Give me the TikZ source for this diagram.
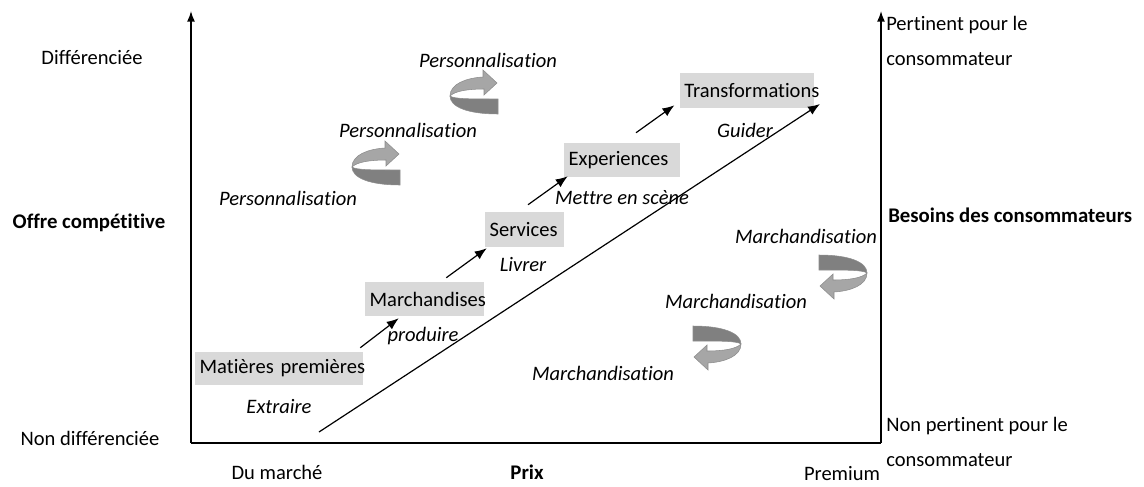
\documentclass[tikz,border=0pt]{standalone}
\usepackage{fontspec}
\setmainfont{Carlito}[Ligatures=NoCommon]
\usetikzlibrary{arrows.meta}
\definecolor{boxgray}{HTML}{D9D9D9}
\definecolor{lightg}{HTML}{A6A6A6}
\definecolor{darkg}{HTML}{808080}
\definecolor{edgeg}{HTML}{8C8C8C}
\tikzset{
 uturn/.pic={
  \path[fill=darkg, draw=edgeg, line width=0.4pt]
    (48,44) .. controls (18,44) and (0,37) .. (0,26)
    .. controls (4,29) and (20,29) .. (48,29) -- cycle;
  \path[fill=lightg, draw=edgeg, line width=0.4pt]
    (0,26) .. controls (0,14) and (16,8) .. (33,7) -- (33,0) -- (47,13)
    -- (34,25) -- (34,19) .. controls (18,19) and (5,21) .. (0,26) -- cycle;
 }
}
\begin{document}
\begin{tikzpicture}[x=0.75pt,y=-0.75pt,
 txt/.style={font=\fontsize{15.4}{18}\selectfont, inner sep=0pt, text=black},
 itx/.style={font=\fontsize{15.4}{18}\selectfont\itshape, inner sep=0pt, text=black},
 bld/.style={font=\fontsize{15.6}{18}\selectfont\bfseries, inner sep=0pt, text=black},
 two/.style={font=\fontsize{15.4}{26}\selectfont, inner sep=0pt, align=left, anchor=west},
 bx/.style={font=\fontsize{15.4}{18}\selectfont, fill=boxgray, inner xsep=3.5pt, inner ysep=0pt, align=left},
 ax/.style={line width=1.1pt, -{Latex[length=8pt,width=6pt]}},
 con/.style={line width=0.9pt, -{Latex[length=9pt,width=7pt]}}
]
\useasboundingbox (0,0) rectangle (1144,486);

% axes
\coordinate (o) at (191,443);
\coordinate (ytop) at (191,11);
\coordinate (xend) at (881,443);
\coordinate (rtop) at (881,11);
\draw[ax] (o) -- (ytop);
\draw[line width=1.1pt] (o) -- (xend);
\draw[ax] (xend) -- (rtop);

% axis labels
\node[txt] (dif) at (92,58) {Différenciée};
\node[txt] (ndif) at (90,438) {Non différenciée};
\node[bld] (offre) at (89,223) {Offre compétitive};
\node[txt] (dum) at (277,472) {Du marché};
\node[bld] (prix) at (527,472) {Prix};
\node[txt] (prem) at (842,474) {Premium};
\node[two] (pert) at (886,41) {Pertinent pour le\\consommateur};
\node[two] (npert) at (886,442) {Non pertinent pour le\\consommateur};
\node[bld, anchor=west] (bes) at (888,215) {Besoins des consommateurs};

% boxes
\node[bx, text width=119pt, minimum height=24.75pt] (mp) at (279,368.5) {\mbox{Matières premières}};
\node[bx, text width=82.25pt, minimum height=25.5pt] (mc) at (424.5,299) {\mbox{Marchandises}};
\node[bx, text width=52.25pt, minimum height=26.25pt] (sv) at (524.5,229.5) {\mbox{Services}};
\node[bx, text width=80pt, minimum height=25.5pt] (ex) at (622,160) {\mbox{Experiences}};
\node[bx, text width=94pt, minimum height=26.25pt] (tr) at (747,90.5) {\mbox{Transformations}};

% italic sublabels
\node[itx] (extr) at (279,407) {Extraire};
\node[itx] (prod) at (423,336) {produire};
\node[itx] (livr) at (523,264) {Livrer};
\node[itx] (mett) at (622,198) {Mettre en scène};
\node[itx] (guid) at (745,130) {Guider};

% diagonal
\coordinate (d0) at (319,432);
\coordinate (d1) at (820,104);
\draw[con] (d0) -- (d1);

% step arrows
\draw[con] ([shift={(-3,-4)}]mp.north east) -- ([shift={(34,2)}]mc.south west);
\draw[con] ([shift={(-38,-4)}]mc.north east) -- ([shift={(2,1)}]sv.south west);
\draw[con] ([shift={(3.5,-7)}]sv.north) -- ([shift={(4,-1)}]ex.south west);
\draw[con] ([shift={(14,-10)}]ex.north) -- ([shift={(-5,-3)}]tr.south west);

% personnalisation
\node[itx] (p1) at (288,198) {Personnalisation};
\node[itx] (p2) at (408,130) {Personnalisation};
\node[itx] (p3) at (488,60) {Personnalisation};
\pic at (352,141) {uturn};
\pic at (450,70) {uturn};

% marchandisation
\node[itx] (m1) at (806,236) {Marchandisation};
\node[itx] (m2) at (736,301) {Marchandisation};
\node[itx] (m3) at (603,373) {Marchandisation};
\pic[rotate=180] at (867,299) {uturn};
\pic[rotate=180] at (741,370) {uturn};
\end{tikzpicture}
\end{document}
